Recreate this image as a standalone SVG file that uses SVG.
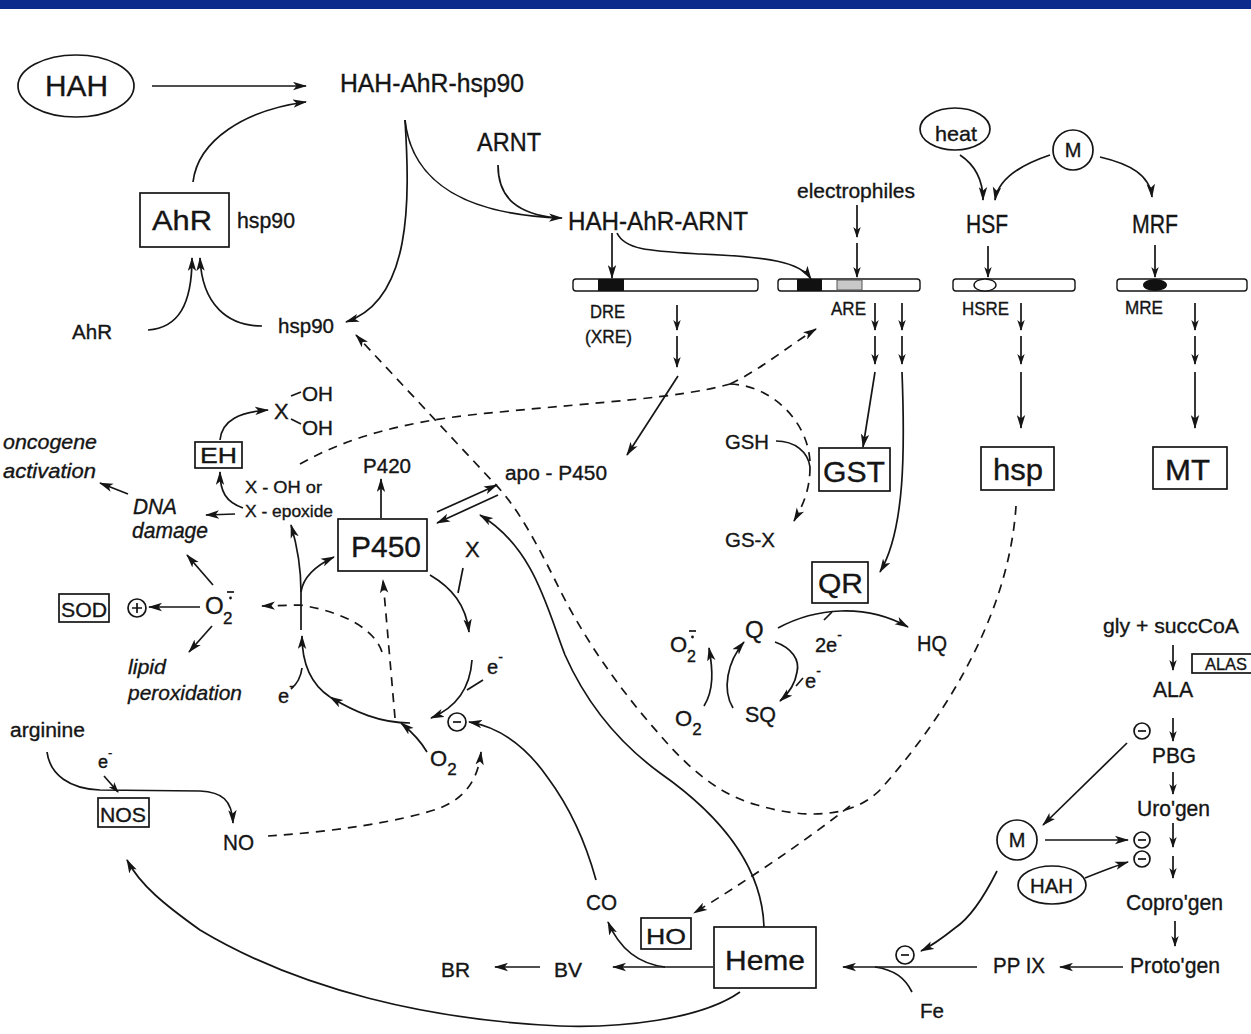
<svg xmlns="http://www.w3.org/2000/svg" width="1251" height="1034" viewBox="0 0 1251 1034">
<style>
.t{font-family:"Liberation Sans",Arial,sans-serif;fill:#151515;stroke:#151515;stroke-width:0.35}
.i{font-style:italic}
.ln{fill:none;stroke:#151515;stroke-width:1.7}
.ds{fill:none;stroke:#151515;stroke-width:1.7;stroke-dasharray:9 7}
.bx{fill:#fff;stroke:#151515;stroke-width:1.7}
.ah{marker-end:url(#ah)}
.as{marker-end:url(#as)}
.bar{fill:#fff;stroke:#151515;stroke-width:1.4}
</style>
<defs>
<marker id="ah" viewBox="0 0 14 9" refX="13" refY="4.5" markerWidth="14" markerHeight="9" markerUnits="userSpaceOnUse" orient="auto"><path d="M0,0.3 L14,4.5 L0,8.7 L3.5,4.5 Z" fill="#151515"/></marker>
<marker id="as" viewBox="0 0 11 8" refX="10" refY="4" markerWidth="11" markerHeight="8" markerUnits="userSpaceOnUse" orient="auto"><path d="M0,0.3 L11,4 L0,7.7 L3,4 Z" fill="#151515"/></marker>
</defs>
<rect x="0" y="0" width="1251" height="1034" fill="#fff"/>
<rect x="0" y="0" width="1251" height="9" fill="#0b2a8c"/>

<g id="connectors">
<path class="ln ah" d="M152,86 L306,86"/>
<path class="ln ah" d="M193,182 C198,140 245,110 306,102"/>
<path class="ln ah" d="M148,330 C178,328 192,305 192,258"/>
<path class="ln ah" d="M262,326 C228,326 202,305 200,258"/>
<path class="ln ah" d="M405,120 C410,200 412,300 346,322"/>
<path class="ln ah" d="M405,120 C412,185 470,215 562,218"/>
<path class="ln" d="M498,165 C498,200 520,214 556,218"/>
<path class="ln ah" d="M612,233 L612,278"/>
<path class="ln ah" d="M617,233 C625,250 650,251 700,254 C770,257 800,262 811,279"/>
<path class="ln as" d="M857,205 L857,237"/>
<path class="ln as" d="M857,243 L857,277"/>
<path class="ln ah" d="M960,155 C975,165 983,180 983,200"/>
<path class="ln ah" d="M1050,155 C1020,165 998,180 995,200"/>
<path class="ln ah" d="M1100,157 C1130,164 1150,175 1152,197"/>
<path class="ln as" d="M988,246 L988,277"/>
<path class="ln as" d="M1155,245 L1155,277"/>
<path class="ln as" d="M677,305 L677,330"/>
<path class="ln as" d="M677,336 L677,367"/>
<path class="ln ah" d="M678,376 L627,455"/>
<path class="ln as" d="M875,303 L875,330"/>
<path class="ln as" d="M875,336 L875,364"/>
<path class="ln as" d="M902,303 L902,330"/>
<path class="ln as" d="M902,336 L902,364"/>
<path class="ln ah" d="M875,372 L863,447"/>
<path class="ln ah" d="M902,372 C905,450 905,530 880,572"/>
<path class="ln as" d="M1021,303 L1021,330"/>
<path class="ln as" d="M1021,336 L1021,364"/>
<path class="ln ah" d="M1021,372 L1021,428"/>
<path class="ln as" d="M1195,303 L1195,330"/>
<path class="ln as" d="M1195,336 L1195,364"/>
<path class="ln ah" d="M1195,372 L1195,428"/>
<path class="ln ah" d="M243,508 C226,502 220,492 220,472"/>
<path class="ln ah" d="M220,440 C222,420 240,412 268,410"/>
<path class="ln ah" d="M235,514 L206,515"/>
<path class="ln ah" d="M128,494 L100,483"/>
<path class="ln ah" d="M213,585 L187,555"/>
<path class="ln ah" d="M212,626 L189,652"/>
<path class="ln ah" d="M200,607 L149,607"/>
<path class="ln ah" d="M381,518 L381,479"/>
<path class="ln ah" d="M437,512 L497,485"/>
<path class="ln ah" d="M498,495 L437,523"/>
<path class="ln ah" d="M764,927 C762,865 720,815 660,773 C615,740 585,700 565,655 C548,612 535,548 480,515"/>
<path class="ln ah" d="M430,575 C452,588 466,605 469,632"/>
<path class="ln" d="M463,568 L458,593"/>
<path class="ln ah" d="M472,660 C470,690 455,708 431,718"/>
<path class="ln" d="M483,680 L467,690"/>
<path class="ln ah" d="M427,752 C420,740 412,732 401,723"/>
<path class="ln ah" d="M410,723 C380,723 355,712 330,697"/>
<path class="ln ah" d="M330,697 C312,685 302,666 302,636"/>
<path class="ln" d="M291,689 C297,684 301,676 302,668"/>
<path class="ln" d="M301,630 L301,592"/>
<path class="ln ah" d="M301,592 C303,578 315,566 334,557"/>
<path class="ln ah" d="M301,592 C301,570 297,545 291,525"/>
<path class="ds ah" d="M395,718 L383,580"/>
<path class="ds ah" d="M382,652 C375,630 345,612 300,605 L262,606"/>
<path class="ln ah" d="M596,880 C585,840 568,805 548,778 C530,752 505,728 469,722"/>
<path class="ln ah" d="M713,967 L613,967"/>
<path class="ln ah" d="M665,967 C640,964 620,950 608,922"/>
<path class="ln ah" d="M540,967 L495,967"/>
<path class="ln ah" d="M977,967 L843,967"/>
<path class="ln" d="M912,992 C905,978 895,970 875,967"/>
<path class="ln ah" d="M997,871 C985,895 970,918 955,928 C945,936 933,945 921,951"/>
<path class="ln ah" d="M740,992 C700,1020 620,1028 560,1026 C430,1020 300,990 200,930 C165,905 140,885 127,860"/>
<path class="ln ah" d="M47,752 C50,775 70,789 100,790 L200,791 C222,792 232,800 233,823"/>
<path class="ln as" d="M104,776 L118,792"/>
<path class="ds ah" d="M268,836 C330,832 400,822 440,808 C465,798 478,780 481,752"/>
<path class="ds" d="M300,464 C360,430 430,418 500,412 C600,402 680,398 730,384"/>
<path class="ds ah" d="M730,384 C760,370 790,345 816,329"/>
<path class="ds" d="M730,384 C770,385 808,420 810,462"/>
<path class="ln" d="M776,441 C795,441 808,452 810,467"/>
<path class="ds ah" d="M810,467 C810,490 803,505 794,521"/>
<path class="ds ah" d="M1016,506 C1010,600 960,700 880,790 C850,820 800,818 757,805 C720,795 690,770 660,735 C620,690 585,640 560,590 C540,550 520,510 495,484 L356,335"/>
<path class="ds ah" d="M850,806 C800,845 740,885 694,913"/>
<path class="ln ah" d="M778,628 C815,608 865,603 908,627"/>
<path class="ln" d="M824,620 L832,612"/>
<path class="ln ah" d="M775,642 C792,648 800,660 797,672 C795,685 788,694 780,701"/>
<path class="ln" d="M803,678 L796,686"/>
<path class="ln ah" d="M733,708 C722,690 727,662 744,642"/>
<path class="ln ah" d="M704,706 C714,690 713,670 709,648"/>
<path class="ln as" d="M1173,645 L1173,670"/>
<path class="ln as" d="M1173,718 L1173,741"/>
<path class="ln as" d="M1173,772 L1173,794"/>
<path class="ln as" d="M1173,823 L1173,847"/>
<path class="ln as" d="M1173,856 L1173,878"/>
<path class="ln as" d="M1175,921 L1175,946"/>
<path class="ln ah" d="M1123,967 L1060,967"/>
<path class="ln ah" d="M1127,743 L1043,825"/>
<path class="ln ah" d="M1045,840 L1128,840"/>
<path class="ln ah" d="M1085,878 C1100,872 1115,866 1128,862"/>
</g>

<g id="dna">
<rect class="bar" x="573" y="279" width="185" height="12" rx="3"/>
<rect x="598" y="279" width="26" height="12" fill="#111"/>
<rect class="bar" x="778" y="279" width="142" height="12" rx="3"/>
<rect x="797" y="279" width="25" height="12" fill="#111"/>
<rect x="837" y="280" width="25" height="10" fill="#c8c8c8" stroke="#555" stroke-width="1"/>
<rect class="bar" x="953" y="279" width="122" height="12" rx="3"/>
<ellipse cx="985" cy="285" rx="11" ry="6" fill="#fff" stroke="#151515" stroke-width="1.4"/>
<rect class="bar" x="1117" y="279" width="130" height="12" rx="3"/>
<ellipse cx="1155" cy="285" rx="12" ry="6" fill="#111"/>
</g>

<g id="n-hah"><ellipse class="bx" cx="76" cy="86" rx="58" ry="31"/><text class="t" x="45" y="96" font-size="30" textLength="63" lengthAdjust="spacingAndGlyphs">HAH</text></g>
<g id="n-hah-ahr-hsp90"><text class="t" x="340" y="92" font-size="26" textLength="184" lengthAdjust="spacingAndGlyphs">HAH-AhR-hsp90</text></g>
<g id="n-ahr-box"><rect class="bx" x="140" y="193" width="89" height="54"/><text class="t" x="152" y="230" font-size="28" textLength="60" lengthAdjust="spacingAndGlyphs">AhR</text><text class="t" x="237" y="228" font-size="22" textLength="58" lengthAdjust="spacingAndGlyphs">hsp90</text></g>
<g id="n-ahr"><text class="t" x="72" y="339" font-size="21" textLength="40" lengthAdjust="spacingAndGlyphs">AhR</text></g>
<g id="n-hsp90"><text class="t" x="278" y="333" font-size="21" textLength="56" lengthAdjust="spacingAndGlyphs">hsp90</text></g>
<g id="n-arnt"><text class="t" x="477" y="151" font-size="26" textLength="64" lengthAdjust="spacingAndGlyphs">ARNT</text></g>
<g id="n-hah-ahr-arnt"><text class="t" x="568" y="230" font-size="26" textLength="180" lengthAdjust="spacingAndGlyphs">HAH-AhR-ARNT</text></g>
<g id="n-electrophiles"><text class="t" x="797" y="198" font-size="21" textLength="118" lengthAdjust="spacingAndGlyphs">electrophiles</text></g>
<g id="n-heat"><ellipse class="bx" cx="955" cy="129" rx="35" ry="21"/><text class="t" x="935" y="141" font-size="21" textLength="42" lengthAdjust="spacingAndGlyphs">heat</text></g>
<g id="n-m-top"><circle class="bx" cx="1073" cy="150" r="20"/><text class="t" x="1073" y="157" font-size="20" text-anchor="middle">M</text></g>
<g id="n-hsf"><text class="t" x="966" y="233" font-size="25" textLength="42" lengthAdjust="spacingAndGlyphs">HSF</text></g>
<g id="n-mrf"><text class="t" x="1132" y="233" font-size="25" textLength="46" lengthAdjust="spacingAndGlyphs">MRF</text></g>
<g id="n-dre"><text class="t" x="590" y="318" font-size="18" textLength="35" lengthAdjust="spacingAndGlyphs">DRE</text><text class="t" x="585" y="343" font-size="18" textLength="47" lengthAdjust="spacingAndGlyphs">(XRE)</text></g>
<g id="n-are"><text class="t" x="831" y="315" font-size="18" textLength="35" lengthAdjust="spacingAndGlyphs">ARE</text></g>
<g id="n-hsre"><text class="t" x="962" y="315" font-size="18" textLength="47" lengthAdjust="spacingAndGlyphs">HSRE</text></g>
<g id="n-mre"><text class="t" x="1125" y="314" font-size="18" textLength="38" lengthAdjust="spacingAndGlyphs">MRE</text></g>
<g id="n-xoh2"><text class="t" x="274" y="419" font-size="22">X</text><text class="t" x="302" y="401" font-size="21" textLength="31" lengthAdjust="spacingAndGlyphs">OH</text><text class="t" x="302" y="435" font-size="21" textLength="31" lengthAdjust="spacingAndGlyphs">OH</text><path class="ln" d="M291,396 L301,392 M291,419 L301,424"/></g>
<g id="n-eh"><rect class="bx" x="195" y="442" width="47" height="26"/><text class="t" x="200" y="463" font-size="22" textLength="37" lengthAdjust="spacingAndGlyphs">EH</text></g>
<g id="n-xoh"><text class="t" x="245" y="493" font-size="17" textLength="77" lengthAdjust="spacingAndGlyphs">X - OH or</text><text class="t" x="245" y="517" font-size="17" textLength="88" lengthAdjust="spacingAndGlyphs">X - epoxide</text></g>
<g id="n-oncogene"><text class="t i" x="3" y="449" font-size="21" textLength="94" lengthAdjust="spacingAndGlyphs">oncogene</text><text class="t i" x="3" y="478" font-size="21" textLength="93" lengthAdjust="spacingAndGlyphs">activation</text></g>
<g id="n-dna"><text class="t i" x="133" y="514" font-size="22" textLength="44" lengthAdjust="spacingAndGlyphs">DNA</text><text class="t i" x="132" y="538" font-size="22" textLength="76" lengthAdjust="spacingAndGlyphs">damage</text></g>
<g id="n-p420"><text class="t" x="363" y="473" font-size="20" textLength="48" lengthAdjust="spacingAndGlyphs">P420</text></g>
<g id="n-apo"><text class="t" x="505" y="480" font-size="20" textLength="102" lengthAdjust="spacingAndGlyphs">apo - P450</text></g>
<g id="n-p450"><rect class="bx" x="338" y="519" width="89" height="52"/><text class="t" x="351" y="557" font-size="30" textLength="70" lengthAdjust="spacingAndGlyphs">P450</text></g>
<g id="n-x"><text class="t" x="465" y="557" font-size="22">X</text></g>
<g id="n-sod"><rect class="bx" x="59" y="594" width="50" height="28"/><text class="t" x="61" y="617" font-size="21" textLength="46" lengthAdjust="spacingAndGlyphs">SOD</text></g>
<g id="n-plus"><circle class="bx" cx="137" cy="608" r="9"/><path class="ln" d="M132,608 L142,608 M137,603 L137,613"/></g>
<g id="n-superoxide"><text class="t" x="205" y="614" font-size="24">O</text><text class="t" x="223" y="624" font-size="17">2</text><path class="ln" d="M227,592 L234,592"/><circle cx="230.5" cy="598" r="1.4" fill="#151515"/></g>
<g id="n-lipid"><text class="t i" x="128" y="674" font-size="21" textLength="38" lengthAdjust="spacingAndGlyphs">lipid</text><text class="t i" x="128" y="700" font-size="21" textLength="114" lengthAdjust="spacingAndGlyphs">peroxidation</text></g>
<g id="n-e1"><text class="t" x="278" y="703" font-size="20">e<tspan dy="-12" font-size="14">-</tspan></text></g>
<g id="n-e2"><text class="t" x="487" y="674" font-size="20">e<tspan dy="-12" font-size="14">-</tspan></text></g>
<g id="n-o2c"><text class="t" x="430" y="766" font-size="22">O<tspan dy="9" font-size="17">2</tspan></text></g>
<g id="n-minus1"><circle class="bx" cx="457" cy="722" r="9"/><path class="ln" d="M453,722 L461,722"/></g>
<g id="n-arginine"><text class="t" x="10" y="737" font-size="20" textLength="75" lengthAdjust="spacingAndGlyphs">arginine</text></g>
<g id="n-e3"><text class="t" x="98" y="768" font-size="18">e<tspan dy="-11" font-size="13">-</tspan></text></g>
<g id="n-nos"><rect class="bx" x="98" y="798" width="51" height="29"/><text class="t" x="100" y="822" font-size="20" textLength="46" lengthAdjust="spacingAndGlyphs">NOS</text></g>
<g id="n-no"><text class="t" x="223" y="850" font-size="22" textLength="31" lengthAdjust="spacingAndGlyphs">NO</text></g>
<g id="n-gsh"><text class="t" x="725" y="449" font-size="21" textLength="44" lengthAdjust="spacingAndGlyphs">GSH</text></g>
<g id="n-gsx"><text class="t" x="725" y="547" font-size="21" textLength="50" lengthAdjust="spacingAndGlyphs">GS-X</text></g>
<g id="n-gst"><rect class="bx" x="819" y="448" width="71" height="43"/><text class="t" x="823" y="482" font-size="29" textLength="62" lengthAdjust="spacingAndGlyphs">GST</text></g>
<g id="n-qr"><rect class="bx" x="812" y="562" width="56" height="41"/><text class="t" x="818" y="593" font-size="28" textLength="45" lengthAdjust="spacingAndGlyphs">QR</text></g>
<g id="n-superoxide2"><text class="t" x="670" y="652" font-size="22">O</text><text class="t" x="687" y="662" font-size="16">2</text><path class="ln" d="M689,631 L696,631"/><circle cx="692.5" cy="637" r="1.4" fill="#151515"/></g>
<g id="n-q"><text class="t" x="745" y="638" font-size="24">Q</text></g>
<g id="n-2e"><text class="t" x="815" y="652" font-size="20">2e<tspan dy="-12" font-size="14">-</tspan></text></g>
<g id="n-hq"><text class="t" x="917" y="651" font-size="22" textLength="30" lengthAdjust="spacingAndGlyphs">HQ</text></g>
<g id="n-e4"><text class="t" x="805" y="688" font-size="20">e<tspan dy="-12" font-size="14">-</tspan></text></g>
<g id="n-o2r"><text class="t" x="675" y="726" font-size="22">O<tspan dy="9" font-size="17">2</tspan></text></g>
<g id="n-sq"><text class="t" x="745" y="722" font-size="22" textLength="31" lengthAdjust="spacingAndGlyphs">SQ</text></g>
<g id="n-hsp"><rect class="bx" x="981" y="447" width="73" height="43"/><text class="t" x="993" y="480" font-size="29" textLength="50" lengthAdjust="spacingAndGlyphs">hsp</text></g>
<g id="n-mt"><rect class="bx" x="1153" y="447" width="74" height="42"/><text class="t" x="1165" y="480" font-size="30" textLength="45" lengthAdjust="spacingAndGlyphs">MT</text></g>
<g id="n-gly"><text class="t" x="1103" y="633" font-size="20" textLength="136" lengthAdjust="spacingAndGlyphs">gly + succCoA</text></g>
<g id="n-alas"><rect class="bx" x="1192" y="654" width="62" height="19"/><text class="t" x="1205" y="670" font-size="17" textLength="42" lengthAdjust="spacingAndGlyphs">ALAS</text></g>
<g id="n-ala"><text class="t" x="1153" y="697" font-size="22" textLength="40" lengthAdjust="spacingAndGlyphs">ALA</text></g>
<g id="n-minus2"><circle class="bx" cx="1142" cy="731" r="8"/><path class="ln" d="M1138,731 L1146,731"/></g>
<g id="n-pbg"><text class="t" x="1152" y="763" font-size="22" textLength="44" lengthAdjust="spacingAndGlyphs">PBG</text></g>
<g id="n-urogen"><text class="t" x="1137" y="816" font-size="22" textLength="73" lengthAdjust="spacingAndGlyphs">Uro'gen</text></g>
<g id="n-minus3"><circle class="bx" cx="1142" cy="840" r="8"/><path class="ln" d="M1138,840 L1146,840"/></g>
<g id="n-minus4"><circle class="bx" cx="1142" cy="859" r="8"/><path class="ln" d="M1138,859 L1146,859"/></g>
<g id="n-coprogen"><text class="t" x="1126" y="910" font-size="22" textLength="97" lengthAdjust="spacingAndGlyphs">Copro'gen</text></g>
<g id="n-protogen"><text class="t" x="1130" y="973" font-size="22" textLength="90" lengthAdjust="spacingAndGlyphs">Proto'gen</text></g>
<g id="n-ppix"><text class="t" x="993" y="973" font-size="22" textLength="52" lengthAdjust="spacingAndGlyphs">PP IX</text></g>
<g id="n-m-low"><circle class="bx" cx="1017" cy="840" r="20"/><text class="t" x="1017" y="847" font-size="20" text-anchor="middle">M</text></g>
<g id="n-hah-low"><ellipse class="bx" cx="1052" cy="885" rx="34" ry="19"/><text class="t" x="1030" y="893" font-size="21" textLength="43" lengthAdjust="spacingAndGlyphs">HAH</text></g>
<g id="n-minus5"><circle class="bx" cx="905" cy="955" r="9"/><path class="ln" d="M901,955 L909,955"/></g>
<g id="n-fe"><text class="t" x="920" y="1018" font-size="20" textLength="24" lengthAdjust="spacingAndGlyphs">Fe</text></g>
<g id="n-heme"><rect class="bx" x="714" y="927" width="102" height="61"/><text class="t" x="725" y="970" font-size="28" textLength="80" lengthAdjust="spacingAndGlyphs">Heme</text></g>
<g id="n-ho"><rect class="bx" x="641" y="918" width="50" height="31"/><text class="t" x="646" y="944" font-size="22" textLength="40" lengthAdjust="spacingAndGlyphs">HO</text></g>
<g id="n-co"><text class="t" x="586" y="910" font-size="22" textLength="31" lengthAdjust="spacingAndGlyphs">CO</text></g>
<g id="n-bv"><text class="t" x="554" y="977" font-size="20" textLength="28" lengthAdjust="spacingAndGlyphs">BV</text></g>
<g id="n-br"><text class="t" x="441" y="977" font-size="20" textLength="29" lengthAdjust="spacingAndGlyphs">BR</text></g>
</svg>
